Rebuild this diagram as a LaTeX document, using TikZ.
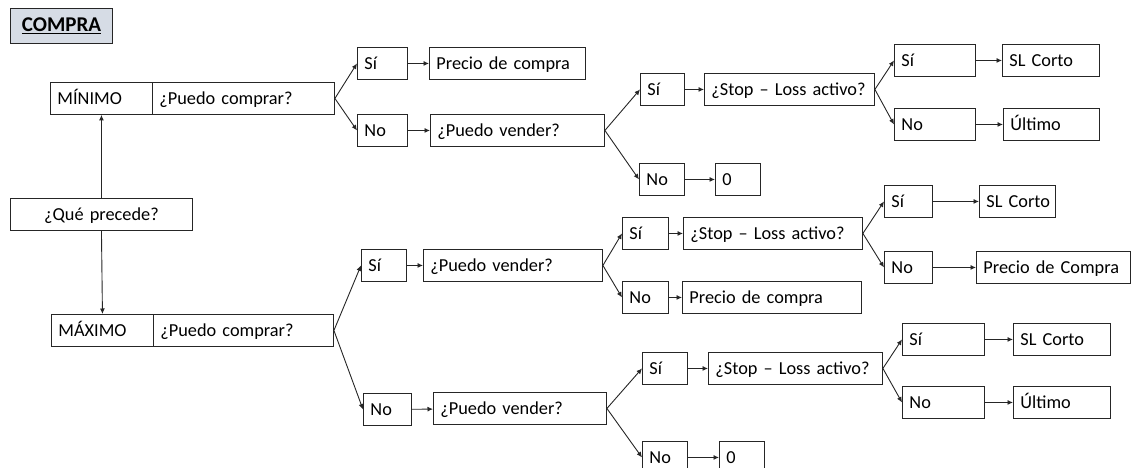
\documentclass[tikz,border=0pt]{standalone}
\usepackage{fontspec}
\setmainfont{Carlito}
\usetikzlibrary{arrows.meta}
\definecolor{fondo}{HTML}{D6DCE5}
\definecolor{borde}{HTML}{262626}
\tikzset{
  caja/.style={draw=borde, line width=0.9pt, anchor=north west, minimum height=32pt,
    inner xsep=7pt, inner ysep=0pt, text width=#1-14pt, text height=15pt, text depth=3.2pt,
    align=left},
  cajac/.style={caja=#1, align=center},
  flecha/.style={->, line width=0.9pt, draw=borde}
}
\begin{document}
\begin{tikzpicture}[x=1pt, y=-1pt, >={Latex[length=5.5pt,width=5pt]},
  font=\fontsize{18.3}{21}\selectfont]
    \useasboundingbox (0,0) rectangle (1132,467);

    % Title
    \node[cajac=102, fill=fondo, minimum height=35pt, line width=1.1pt,
      font=\fontsize{21}{24}\selectfont] at (10,8) (compra) {\underline{\textbf{COMPRA}}};

    % Start and the two cases
    \node[cajac=182] at (10,198) (precede) {¿Qué precede?};
    \node[caja=102] at (50,82) (minimo) {MÍNIMO};
    \node[caja=182] at (152,82) (comprarA) {¿Puedo comprar?};
    \node[caja=102] at (51,314) (maximo) {MÁXIMO};
    \node[caja=180] at (153,314) (comprarB) {¿Puedo comprar?};

    \draw[flecha] (precede.north) -- (minimo.south);
    \draw[flecha] (precede.south) -- (maximo.north);

    % MINIMO branch
    \node[caja=50] at (357,47) (siA) {Sí};
    \node[caja=156] at (429,47) (precioA) {Precio de compra};
    \node[caja=50] at (357,114) (noA) {No};
    \node[caja=174] at (430,114) (venderA) {¿Puedo vender?};
    \node[caja=44] at (640,73) (siA2) {Sí};
    \node[caja=170] at (704,73) (stopA) {¿Stop – Loss activo?};
    \node[caja=45] at (639,163) (noA2) {No};
    \node[caja=45] at (715,163) (ceroA) {0};
    \node[caja=81] at (894,44) (siA3) {Sí};
    \node[caja=97] at (1002,44) (slA) {SL Corto};
    \node[caja=81] at (894,108) (noA3) {No};
    \node[caja=96] at (1003,108) (ultimoA) {Último};

    \draw[flecha] (comprarA.east) -- (siA.west);
    \draw[flecha] (comprarA.east) -- (noA.west);
    \draw[flecha] (siA) -- (precioA);
    \draw[flecha] (noA) -- (venderA);
    \draw[flecha] (venderA.east) -- (siA2.west);
    \draw[flecha] (venderA.east) -- (noA2.west);
    \draw[flecha] (siA2) -- (stopA);
    \draw[flecha] (noA2) -- (ceroA);
    \draw[flecha] (stopA.east) -- (siA3.west);
    \draw[flecha] (stopA.east) -- (noA3.west);
    \draw[flecha] (siA3) -- (slA);
    \draw[flecha] (noA3) -- (ultimoA);

    % MAXIMO branch, yes
    \node[caja=45] at (361,249) (siB) {Sí};
    \node[caja=179] at (423,249) (venderB) {¿Puedo vender?};
    \node[caja=46] at (622,217) (siB2) {Sí};
    \node[caja=179] at (683,217) (stopB) {¿Stop – Loss activo?};
    \node[caja=46] at (622,281) (noB2) {No};
    \node[caja=179] at (682,281) (precioB) {Precio de compra};
    \node[caja=48] at (884,185) (siB3) {Sí};
    \node[caja=76] at (979,185) (slB) {\mbox{SL Corto}};
    \node[caja=48] at (884,251) (noB3) {No};
    \node[caja=154] at (976,251) (precioCB) {Precio de Compra};

    \draw[flecha] (comprarB.east) -- (siB.west);
    \draw[flecha] (siB) -- (venderB);
    \draw[flecha] (venderB.east) -- (siB2.west);
    \draw[flecha] (venderB.east) -- (noB2.west);
    \draw[flecha] (siB2) -- (stopB);
    \draw[flecha] (noB2) -- (precioB);
    \draw[flecha] (stopB.east) -- (siB3.west);
    \draw[flecha] (stopB.east) -- (noB3.west);
    \draw[flecha] (siB3) -- (slB);
    \draw[flecha] (noB3) -- (precioCB);

    % MAXIMO branch, no
    \node[caja=48] at (363,393) (noC) {No};
    \node[caja=173] at (433,392) (venderC) {¿Puedo vender?};
    \node[caja=45] at (642,352) (siC2) {Sí};
    \node[caja=174] at (708,352) (stopC) {¿Stop – Loss activo?};
    \node[caja=45] at (642,441) (noC2) {No};
    \node[caja=45] at (719,441) (ceroC) {0};
    \node[caja=82] at (902,323) (siC3) {Sí};
    \node[caja=97] at (1013,323) (slC) {SL Corto};
    \node[caja=82] at (902,386) (noC3) {No};
    \node[caja=97] at (1013,386) (ultimoC) {Último};

    \draw[flecha] (comprarB.east) -- (noC.west);
    \draw[flecha] (noC) -- (venderC);
    \draw[flecha] (venderC.east) -- (siC2.west);
    \draw[flecha] (venderC.east) -- (noC2.west);
    \draw[flecha] (siC2) -- (stopC);
    \draw[flecha] (noC2) -- (ceroC);
    \draw[flecha] (stopC.east) -- (siC3.west);
    \draw[flecha] (stopC.east) -- (noC3.west);
    \draw[flecha] (siC3) -- (slC);
    \draw[flecha] (noC3) -- (ultimoC);

\end{tikzpicture}
\end{document}
